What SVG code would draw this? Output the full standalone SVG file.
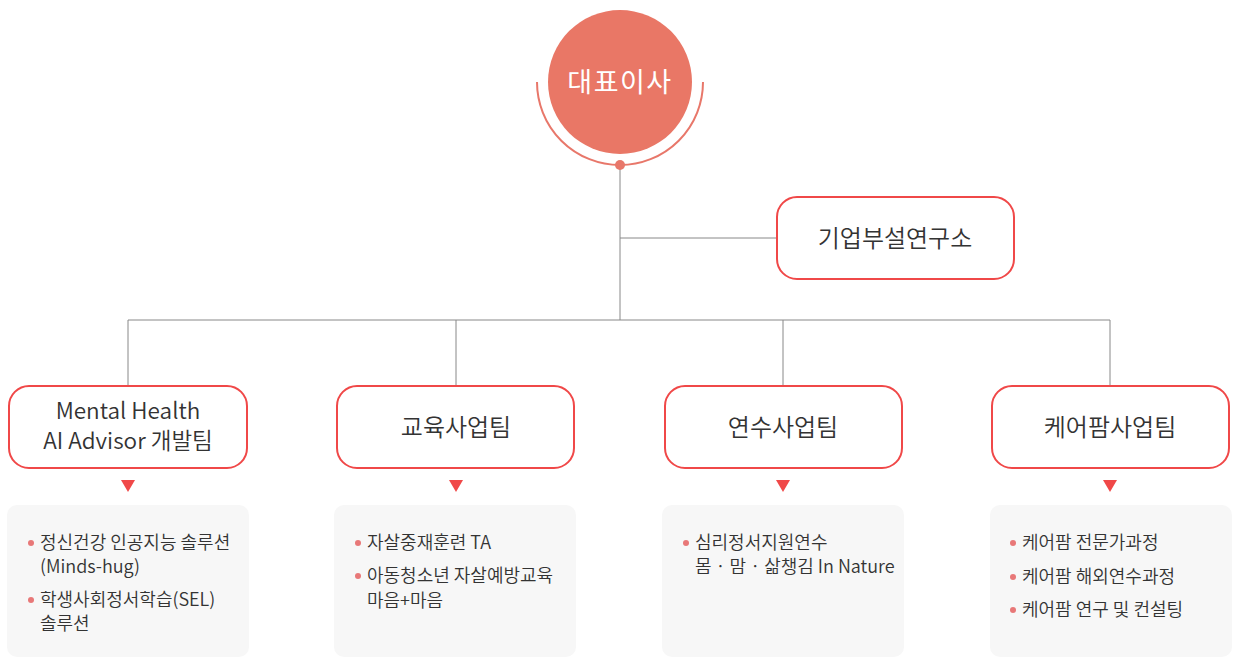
<svg xmlns="http://www.w3.org/2000/svg" width="1237" height="662" viewBox="0 0 1237 662">
<style>
.box{fill:#fff;stroke:#f04848;stroke-width:2}
.panel{fill:#f7f7f7}
.t{font-family:"Noto Sans CJK KR","Noto Sans",sans-serif;fill:#333}
.title{font-size:24px;text-anchor:middle;font-weight:350}
.item{font-size:18px;font-weight:350}
.dot{fill:#e87878}
.tri{fill:#f04848}
.ln{stroke:#888;stroke-width:1;fill:none}
</style>
<g id="connectors">
<path class="ln" d="M620 165V320M620 238H778M128 320H1110M128 320V386M456 320V386M783 320V386M1110 320V386"/>
</g>
<g id="ceo">
<path d="M537 82A83 83 0 0 0 703 82" fill="none" stroke="#e8776a" stroke-width="2"/>
<circle cx="620" cy="82" r="72" fill="#e97766"/>
<circle cx="620" cy="165" r="5" fill="#e8776a"/>
<text x="620" y="92" class="t" style="fill:#fff;font-size:27px;text-anchor:middle;letter-spacing:1.5px">대표이사</text>
</g>
<g id="lab">
<rect class="box" x="777" y="197" width="237" height="82" rx="20"/>
<text x="895" y="247" class="t title">기업부설연구소</text>
</g>
<g id="team1">
<rect class="box" x="9" y="386" width="238" height="82" rx="20"/>
<text x="128" y="419" class="t title" style="font-size:22.5px">Mental Health</text>
<text x="128" y="449" class="t title" style="font-size:22.5px">AI Advisor 개발팀</text>
<path class="tri" d="M121 480H135L128 492Z"/>
<rect class="panel" x="7" y="505" width="242" height="152" rx="10"/>
<circle class="dot" cx="31" cy="543" r="3"/>
<text x="40" y="549" class="t item">정신건강 인공지능 솔루션</text>
<text x="40" y="573" class="t item">(Minds-hug)</text>
<circle class="dot" cx="31" cy="600" r="3"/>
<text x="40" y="606" class="t item">학생사회정서학습(SEL)</text>
<text x="40" y="630" class="t item">솔루션</text>
</g>
<g id="team2">
<rect class="box" x="337" y="386" width="237" height="82" rx="20"/>
<text x="456" y="436" class="t title">교육사업팀</text>
<path class="tri" d="M449 480H463L456 492Z"/>
<rect class="panel" x="334" y="505" width="242" height="152" rx="10"/>
<circle class="dot" cx="358" cy="543" r="3"/>
<text x="367" y="549" class="t item">자살중재훈련 TA</text>
<circle class="dot" cx="358" cy="576" r="3"/>
<text x="367" y="582" class="t item">아동청소년 자살예방교육</text>
<text x="367" y="607" class="t item">마음+마음</text>
</g>
<g id="team3">
<rect class="box" x="665" y="386" width="237" height="82" rx="20"/>
<text x="783" y="436" class="t title">연수사업팀</text>
<path class="tri" d="M776 480H790L783 492Z"/>
<rect class="panel" x="662" y="505" width="242" height="152" rx="10"/>
<circle class="dot" cx="686" cy="543" r="3"/>
<text x="695" y="549" class="t item">심리정서지원연수</text>
<text x="695" y="573" class="t item">몸 · 맘 · 삶챙김 In Nature</text>
</g>
<g id="team4">
<rect class="box" x="992" y="386" width="237" height="82" rx="20"/>
<text x="1110" y="436" class="t title">케어팜사업팀</text>
<path class="tri" d="M1103 480H1117L1110 492Z"/>
<rect class="panel" x="990" y="505" width="242" height="152" rx="10"/>
<circle class="dot" cx="1013" cy="543" r="3"/>
<text x="1022" y="549" class="t item">케어팜 전문가과정</text>
<circle class="dot" cx="1013" cy="577" r="3"/>
<text x="1022" y="583" class="t item">케어팜 해외연수과정</text>
<circle class="dot" cx="1013" cy="610" r="3"/>
<text x="1022" y="616" class="t item">케어팜 연구 및 컨설팅</text>
</g>
</svg>
